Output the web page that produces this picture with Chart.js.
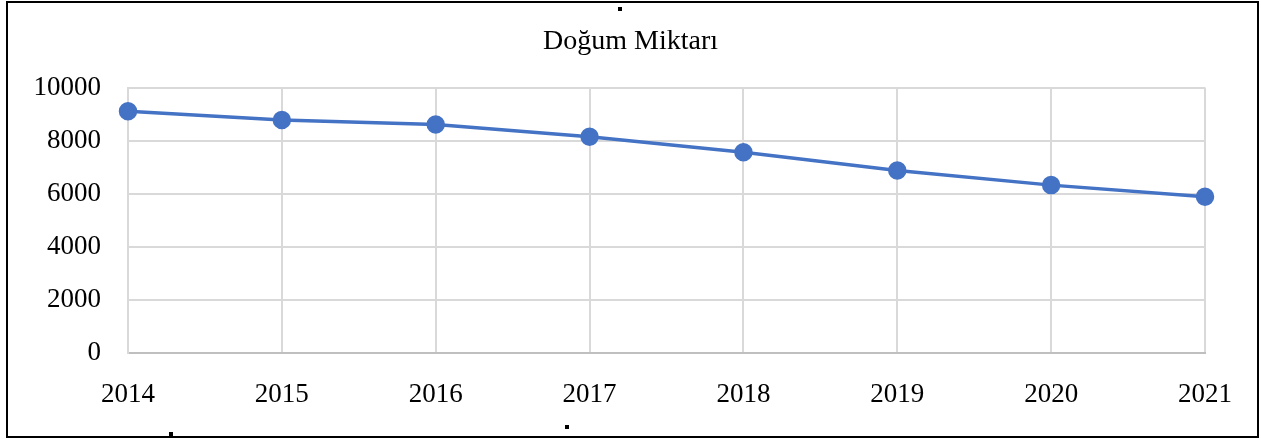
<!DOCTYPE html>
<html>
<head>
<meta charset="utf-8">
<script src="https://cdn.jsdelivr.net/npm/chart.js@4"></script>
<style>
  html, body { margin: 0; padding: 0; background: #fff; }
  #wrap { position: relative; width: 1261px; height: 439px; }
  #frame { position: absolute; left: 6px; top: 1px; width: 1249px; height: 433px; border: 2px solid #000; pointer-events: none; }
  .dot { position: absolute; width: 4px; height: 4px; background: #000; }
</style>
</head>
<body>
<div id="wrap">
  <canvas id="lineChart" width="1261" height="439"></canvas>
  <div id="frame"></div>
  <div class="dot" style="left:618px;top:7px"></div>
  <div class="dot" style="left:169px;top:432px"></div>
  <div class="dot" style="left:565px;top:425px"></div>
</div>
<script>
var years = ["2014", "2015", "2016", "2017", "2018", "2019", "2020", "2021"];
var births = [9110, 8775, 8610, 8145, 7560, 6870, 6320, 5880];
var yTicks = [0, 2000, 4000, 6000, 8000, 10000];

var serif = "'Liberation Serif', 'Times New Roman', serif";

var ctx = document.getElementById("lineChart").getContext('2d');
var myLineChart = new Chart(ctx, {
    type: 'line',
    data: {
        labels: years,
        datasets: [{
            label: "Doğum Miktarı",
            data: births,
            borderColor: "#4472C4",
            backgroundColor: "#4472C4",
            borderWidth: 3.5,
            pointRadius: 7.5,
            pointHoverRadius: 7.5,
            tension: 0
        }]
    },
    options: {
        responsive: false,
        animation: false,
        layout: {
            padding: { top: 10, left: 0, right: 0, bottom: 2 }
        },
        plugins: {
            legend: { display: false },
            tooltip: { enabled: false },
            title: {
                display: true,
                text: "Doğum Miktarı",
                color: "#000",
                font: { family: serif, size: 28, weight: 'normal' },
                padding: { top: 15, bottom: 29 }
            }
        },
        scales: {
            x: {
                offset: false,
                grid: { color: "#d9d9d9", lineWidth: 2, drawTicks: false },
                border: { color: "#bfbfbf", width: 2 },
                ticks: {
                    color: "#000",
                    padding: 26,
                    maxRotation: 0,
                    font: { family: serif, size: 27 }
                }
            },
            y: {
                min: 0,
                max: 10000,
                afterFit: function (scale) { scale.width = 128; },
                afterBuildTicks: function (scale) {
                    scale.ticks = yTicks.map(function (v) { return { value: v }; });
                },
                grid: { color: "#d9d9d9", lineWidth: 2, drawTicks: false },
                border: { color: "#d9d9d9", width: 2 },
                ticks: {
                    color: "#000",
                    padding: 27,
                    font: { family: serif, size: 27 },
                    callback: function (v) { return String(v); }
                }
            },
            // empty right-hand axis, only reserves space so the title stays centred
            spacer: {
                type: 'linear',
                position: 'right',
                display: true,
                afterFit: function (scale) { scale.width = 56; },
                grid: { display: false },
                border: { display: false },
                ticks: { display: false }
            }
        }
    }
});
</script>
</body>
</html>
